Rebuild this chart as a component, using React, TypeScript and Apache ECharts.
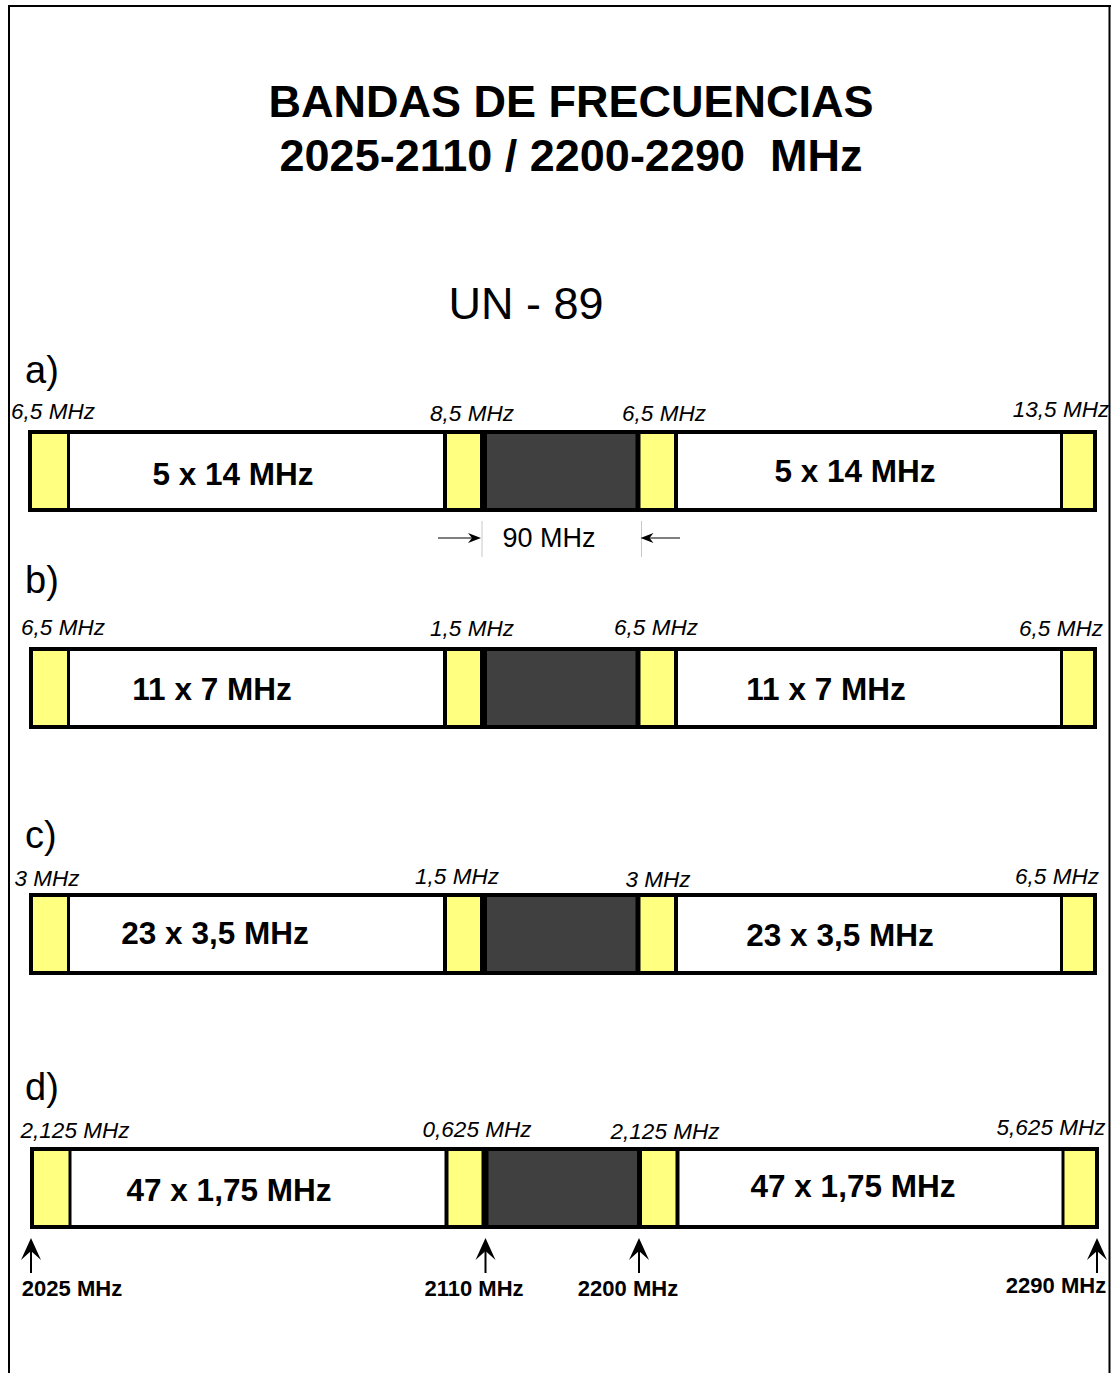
import React, { useEffect, useRef } from 'react';
import * as echarts from 'echarts';

// ---------- data ----------
const titleLines = ['BANDAS DE FRECUENCIAS', '2025-2110 / 2200-2290  MHz'];
const planName = 'UN - 89';
const rowLabels = ['a)', 'b)', 'c)', 'd)'];
const channelPlans = ['5 x 14 MHz', '11 x 7 MHz', '23 x 3,5 MHz', '47 x 1,75 MHz'];
const guardLowEdge = ['6,5 MHz', '6,5 MHz', '3 MHz', '2,125 MHz'];
const guardBelowGap = ['8,5 MHz', '1,5 MHz', '1,5 MHz', '0,625 MHz'];
const guardAboveGap = ['6,5 MHz', '6,5 MHz', '3 MHz', '2,125 MHz'];
const guardHighEdge = ['13,5 MHz', '6,5 MHz', '6,5 MHz', '5,625 MHz'];
const bandEdgeLabels = ['2025 MHz', '2110 MHz', '2200 MHz', '2290 MHz'];
const duplexGapLabel = '90 MHz';

// ---------- layout (diagram units, 1 unit = 1 px) ----------
const W = 1113;
const H = 1373;
const FONT = "'Liberation Sans', Arial, Helvetica, sans-serif";
const YELLOW = '#ffff80';
const DARK = '#404040';
const ROW_H = 82;
const DIVIDERS: [number, number][] = [
  [68.5, 3], [445, 4], [483.5, 7], [638, 5], [676, 4], [1061.5, 3],
];
const ROW_LAYOUT = [
  { top: 430, left: 28, right: 1097, shift: 0, letterY: 370,
    guardPos: [[53, 411], [472, 413], [664, 413], [1061, 409]], chanPos: [[233, 474], [855, 471]] },
  { top: 647, left: 29, right: 1097, shift: 0, letterY: 580,
    guardPos: [[63, 627], [472, 628], [656, 627], [1061, 628]], chanPos: [[212, 689], [826, 689]] },
  { top: 893, left: 29, right: 1097, shift: 0, letterY: 835,
    guardPos: [[47, 878], [457, 876], [658, 879], [1057, 876]], chanPos: [[215, 933], [840, 935]] },
  { top: 1147, left: 30, right: 1099, shift: 1.5, letterY: 1087,
    guardPos: [[75, 1130], [477, 1129], [665, 1131], [1051, 1127]], chanPos: [[229, 1190], [853, 1186]] },
];
const EDGE_LABEL_POS = [[72, 1288], [474, 1288], [628, 1288], [1056, 1285]];

function renderRow(params: any, api: any) {
  const i = api.value(0) as number;
  const L = ROW_LAYOUT[i];
  const p = (x: number, y: number) => api.coord([x, y]);
  const top = L.top;
  const bot = L.top + ROW_H;
  const d = DIVIDERS.map(([x, w]) => [x + L.shift, w]);
  const rect = (x1: number, x2: number, fill: string) => {
    const a = p(x1, top);
    const b = p(x2, bot);
    return { type: 'rect', shape: { x: a[0], y: a[1], width: b[0] - a[0], height: b[1] - a[1] }, style: { fill } };
  };
  const children: any[] = [];
  children.push(rect(L.left, L.right, '#ffffff'));
  children.push(rect(L.left, d[0][0], YELLOW));
  children.push(rect(d[1][0], d[2][0], YELLOW));
  children.push(rect(d[2][0], d[3][0], DARK));
  children.push(rect(d[3][0], d[4][0], YELLOW));
  children.push(rect(d[5][0], L.right, YELLOW));
  d.forEach(([x, w]) => {
    const a = p(x, top);
    const b = p(x, bot);
    children.push({ type: 'line', shape: { x1: a[0], y1: a[1], x2: b[0], y2: b[1] }, style: { stroke: '#000', lineWidth: w } });
  });
  const o1 = p(L.left + 2, top + 2);
  const o2 = p(L.right - 2, bot - 2);
  children.push({ type: 'rect', shape: { x: o1[0], y: o1[1], width: o2[0] - o1[0], height: o2[1] - o1[1] },
    style: { fill: 'none', stroke: '#000', lineWidth: 4 } });
  const lp = p(25, L.letterY);
  children.push({ type: 'text', style: { text: rowLabels[i], x: lp[0], y: lp[1], fill: '#000', fontSize: 38,
    fontFamily: FONT, align: 'left', verticalAlign: 'middle' } });
  const guards = [guardLowEdge[i], guardBelowGap[i], guardAboveGap[i], guardHighEdge[i]];
  guards.forEach((g, k) => {
    const gp = p(L.guardPos[k][0], L.guardPos[k][1]);
    children.push({ type: 'text', style: { text: g, x: gp[0], y: gp[1], fill: '#000', fontSize: 22.5, fontStyle: 'italic',
      fontFamily: FONT, align: 'center', verticalAlign: 'middle' } });
  });
  L.chanPos.forEach(([x, y]) => {
    const cp = p(x, y);
    children.push({ type: 'text', style: { text: channelPlans[i], x: cp[0], y: cp[1], fill: '#000', fontSize: 31.5,
      fontWeight: 'bold', fontFamily: FONT, align: 'center', verticalAlign: 'middle' } });
  });
  return { type: 'group', children };
}

function renderAnnotations(params: any, api: any) {
  const p = (x: number, y: number) => api.coord([x, y]);
  const children: any[] = [];
  // 90 MHz duplex gap marker on row a
  const ra = ROW_LAYOUT[0];
  const gapL = DIVIDERS[2][0] + ra.shift - 2.5;
  const gapR = DIVIDERS[3][0] + ra.shift + 2.5;
  const ay = 538;
  [gapL + 1, gapR + 1].forEach((x) => {
    const a = p(x, 521);
    const b = p(x, 557);
    children.push({ type: 'line', shape: { x1: a[0], y1: a[1], x2: b[0], y2: b[1] }, style: { stroke: '#c8c8c8', lineWidth: 1 } });
  });
  const hArrow = (from: number, tip: number) => {
    const dir = tip > from ? 1 : -1;
    const a = p(from, ay);
    const t = p(tip, ay);
    children.push({ type: 'line', shape: { x1: a[0], y1: a[1], x2: t[0] - dir * 4, y2: t[1] }, style: { stroke: '#000', lineWidth: 1.2 } });
    children.push({ type: 'polygon', shape: { points: [
      [t[0], t[1]], [t[0] - dir * 13, t[1] - 5], [t[0] - dir * 9, t[1]], [t[0] - dir * 13, t[1] + 5],
    ] }, style: { fill: '#000' } });
  };
  hArrow(438, gapL);
  hArrow(680, gapR);
  const gp = p(549, ay);
  children.push({ type: 'text', style: { text: duplexGapLabel, x: gp[0], y: gp[1], fill: '#000', fontSize: 27,
    fontFamily: FONT, align: 'center', verticalAlign: 'middle' } });

  // band-edge arrows below row d
  const rd = ROW_LAYOUT[3];
  const edgeX = [rd.left + 1, DIVIDERS[2][0] + rd.shift + 0.5, DIVIDERS[3][0] + rd.shift - 0.5, rd.right - 2];
  edgeX.forEach((x, k) => {
    const tip = p(x, 1238);
    const base = p(x, 1273);
    children.push({ type: 'line', shape: { x1: tip[0], y1: tip[1] + 10, x2: base[0], y2: base[1] }, style: { stroke: '#000', lineWidth: 2 } });
    children.push({ type: 'polygon', shape: { points: [
      [tip[0], tip[1]], [tip[0] + 10, tip[1] + 22], [tip[0], tip[1] + 13], [tip[0] - 10, tip[1] + 22],
    ] }, style: { fill: '#000' } });
    const lp = p(EDGE_LABEL_POS[k][0], EDGE_LABEL_POS[k][1]);
    children.push({ type: 'text', style: { text: bandEdgeLabels[k], x: lp[0], y: lp[1], fill: '#000', fontSize: 22,
      fontWeight: 'bold', fontFamily: FONT, align: 'center', verticalAlign: 'middle' } });
  });
  return { type: 'group', children };
}

export default function App() {
  const ref = useRef<HTMLDivElement>(null);
  useEffect(() => {
    document.body.style.margin = '0';
    const chart = echarts.init(ref.current as HTMLDivElement, null, { renderer: 'svg' });
    chart.setOption({
      animation: false,
      backgroundColor: '#ffffff',
      grid: { left: 0, right: 0, top: 0, bottom: 0 },
      xAxis: { type: 'value', min: 0, max: W, show: false },
      yAxis: { type: 'value', min: 0, max: H, inverse: true, show: false },
      graphic: [
        { type: 'line', shape: { x1: 8, y1: 6, x2: 1111, y2: 6 }, style: { stroke: '#000', lineWidth: 2 } },
        { type: 'line', shape: { x1: 9, y1: 5, x2: 9, y2: H }, style: { stroke: '#000', lineWidth: 2 } },
        { type: 'line', shape: { x1: 1109.5, y1: 5, x2: 1109.5, y2: H }, style: { stroke: '#000', lineWidth: 2 } },
        { type: 'text', x: 571, y: 101, style: { text: titleLines[0], fill: '#000', fontSize: 45, fontWeight: 'bold',
          fontFamily: FONT, align: 'center', verticalAlign: 'middle' } },
        { type: 'text', x: 571, y: 155, style: { text: titleLines[1], fill: '#000', fontSize: 45, fontWeight: 'bold',
          fontFamily: FONT, align: 'center', verticalAlign: 'middle' } },
        { type: 'text', x: 526, y: 303, style: { text: planName, fill: '#000', fontSize: 45,
          fontFamily: FONT, align: 'center', verticalAlign: 'middle' } },
      ],
      series: [
        { type: 'custom', renderItem: renderRow, data: rowLabels.map((_, i) => [i, 0]), clip: false, silent: true },
        { type: 'custom', renderItem: renderAnnotations, data: [[0, 0]], clip: false, silent: true },
      ],
    });
    return () => chart.dispose();
  }, []);
  return <div ref={ref} style={{ width: W, height: H }} />;
}
